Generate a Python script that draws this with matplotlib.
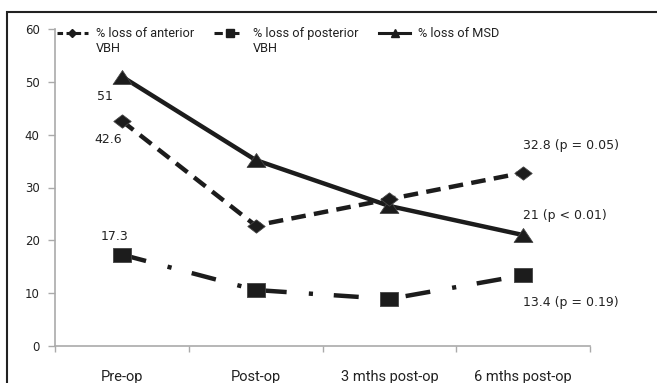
import matplotlib
matplotlib.use("Agg")
import matplotlib.pyplot as plt
from matplotlib.lines import Line2D
from matplotlib.patches import Rectangle
import matplotlib.transforms as mtransforms

plt.rcParams['lines.scale_dashes'] = False

categories = ["Pre-op", "Post-op", "3 mths post-op", "6 mths post-op"]
anterior = [42.6, 22.8, 27.8, 32.8]
posterior = [17.3, 10.6, 8.9, 13.4]
msd = [51, 35.2, 26.5, 21]
series_first = ["% loss of anterior", "% loss of posterior", "% loss of MSD"]
series_second = ["VBH", "VBH", ""]
labels_anterior = {0: "42.6", 3: "32.8 (p = 0.05)"}
labels_posterior = {0: "17.3", 3: "13.4 (p = 0.19)"}
labels_msd = {0: "51", 3: "21 (p < 0.01)"}
yticks = [0, 10, 20, 30, 40, 50, 60]

legend_font = "Roboto"
legend_size = 9.2

W, H = 657, 383
fig = plt.figure(figsize=(W / 100, H / 100), dpi=100)
ax = fig.add_axes([55 / W, 1 - 346 / H, 535 / W, (346 - 29) / H])

col = "#1c1c1c"
sq = [(-1.35, -1), (1.35, -1), (1.35, 1), (-1.35, 1), (-1.35, -1)]
tri = [(0, 1), (-1.35, -1), (1.35, -1), (0, 1)]
dia = [(0, 1), (1.3, 0), (0, -1), (-1.3, 0), (0, 1)]

x = list(range(len(categories)))
ax.plot(x, posterior, color=col, lw=3.2, dashes=(18, 16, 3, 15), marker=sq,
        markersize=13.5, markerfacecolor=col, markeredgecolor="#444444", markeredgewidth=0.6,
        dash_capstyle="butt", zorder=3)
ax.plot(x, msd, color=col, lw=3.2, marker=tri,
        markersize=13.5, markerfacecolor=col, markeredgecolor="#444444", markeredgewidth=0.6,
        zorder=3)
ax.plot(x, anterior, color=col, lw=3.2, dashes=(10.5, 6), marker=dia,
        markersize=12.5, markerfacecolor=col, markeredgecolor="#444444", markeredgewidth=0.6,
        dash_capstyle="butt", zorder=4)

ax.set_xlim(-0.5, len(categories) - 0.5)
ax.set_ylim(0, 60)
ax.set_yticks(yticks)
ax.set_yticklabels([str(v) for v in yticks], fontsize=8.5, family="DejaVu Sans", color="#222222")
ax.set_xticks(x)
ax.set_xticklabels(categories, fontsize=10.5, family="Roboto", color="#222222")
ax.set_xticks([i - 0.5 for i in range(len(categories) + 1)], minor=True)
ax.tick_params(axis="x", which="major", length=0, pad=17)
ax.tick_params(axis="x", which="minor", length=4, color="#aaaaaa", direction="out", width=1)
ax.tick_params(axis="y", length=5, color="#aaaaaa", width=1, pad=6)
for s in ["top", "right"]:
    ax.spines[s].set_visible(False)
for s in ["left", "bottom"]:
    ax.spines[s].set_color("#aaaaaa")
    ax.spines[s].set_linewidth(1.2)

def lab(series, d, dx, dy, ha):
    for i, t in d.items():
        tr = mtransforms.offset_copy(ax.transData, fig=fig, x=dx[i] * 0.72, y=dy[i] * 0.72, units="points")
        ax.text(i, series[i], t, transform=tr, ha=ha[i], va="center", fontsize=9,
                family="DejaVu Sans", color="#222222")

lab(msd, labels_msd, {0: -17, 3: 0}, {0: -20, 3: 20}, {0: "center", 3: "left"})
lab(anterior, labels_anterior, {0: -14, 3: 0}, {0: -19, 3: 27}, {0: "center", 3: "left"})
lab(posterior, labels_posterior, {0: -7, 3: 0}, {0: 18, 3: -27}, {0: "center", 3: "left"})

handles = [
    Line2D([], [], color=col, lw=2.2, dashes=(4, 2.5), marker="D", markersize=4.5),
    Line2D([], [], color=col, lw=2.2, dashes=(6, 6), marker="s", markersize=6),
    Line2D([], [], color=col, lw=2.2, marker="^", markersize=6),
]
fs_px = legend_size / 0.72
leg = ax.legend(handles, series_first, loc="upper left",
                bbox_to_anchor=((51.4 - 55) / 535, 1 + (29 - 22) / 317),
                ncol=3, frameon=False, prop={"family": legend_font, "size": legend_size},
                handlelength=31 / fs_px, handletextpad=8 / fs_px, columnspacing=1.6,
                borderaxespad=0.0, borderpad=0.4)
for t in leg.get_texts():
    t.set_color("#222222")

fig.canvas.draw()
inv = fig.transFigure.inverted()
for t, second in zip(leg.get_texts(), series_second):
    if not second:
        continue
    bb = t.get_window_extent()
    x0, y0 = inv.transform((bb.x0, bb.y0 - 15))
    fig.text(x0, y0, second, ha="left", va="bottom", family=legend_font,
             fontsize=legend_size, color="#222222")

fig.add_artist(Rectangle((7 / W, -0.1), 1.2, 1 - 12 / H + 0.1, transform=fig.transFigure,
                         fill=False, edgecolor="#222222", lw=1.5))

fig.savefig("out.png", dpi=100)
